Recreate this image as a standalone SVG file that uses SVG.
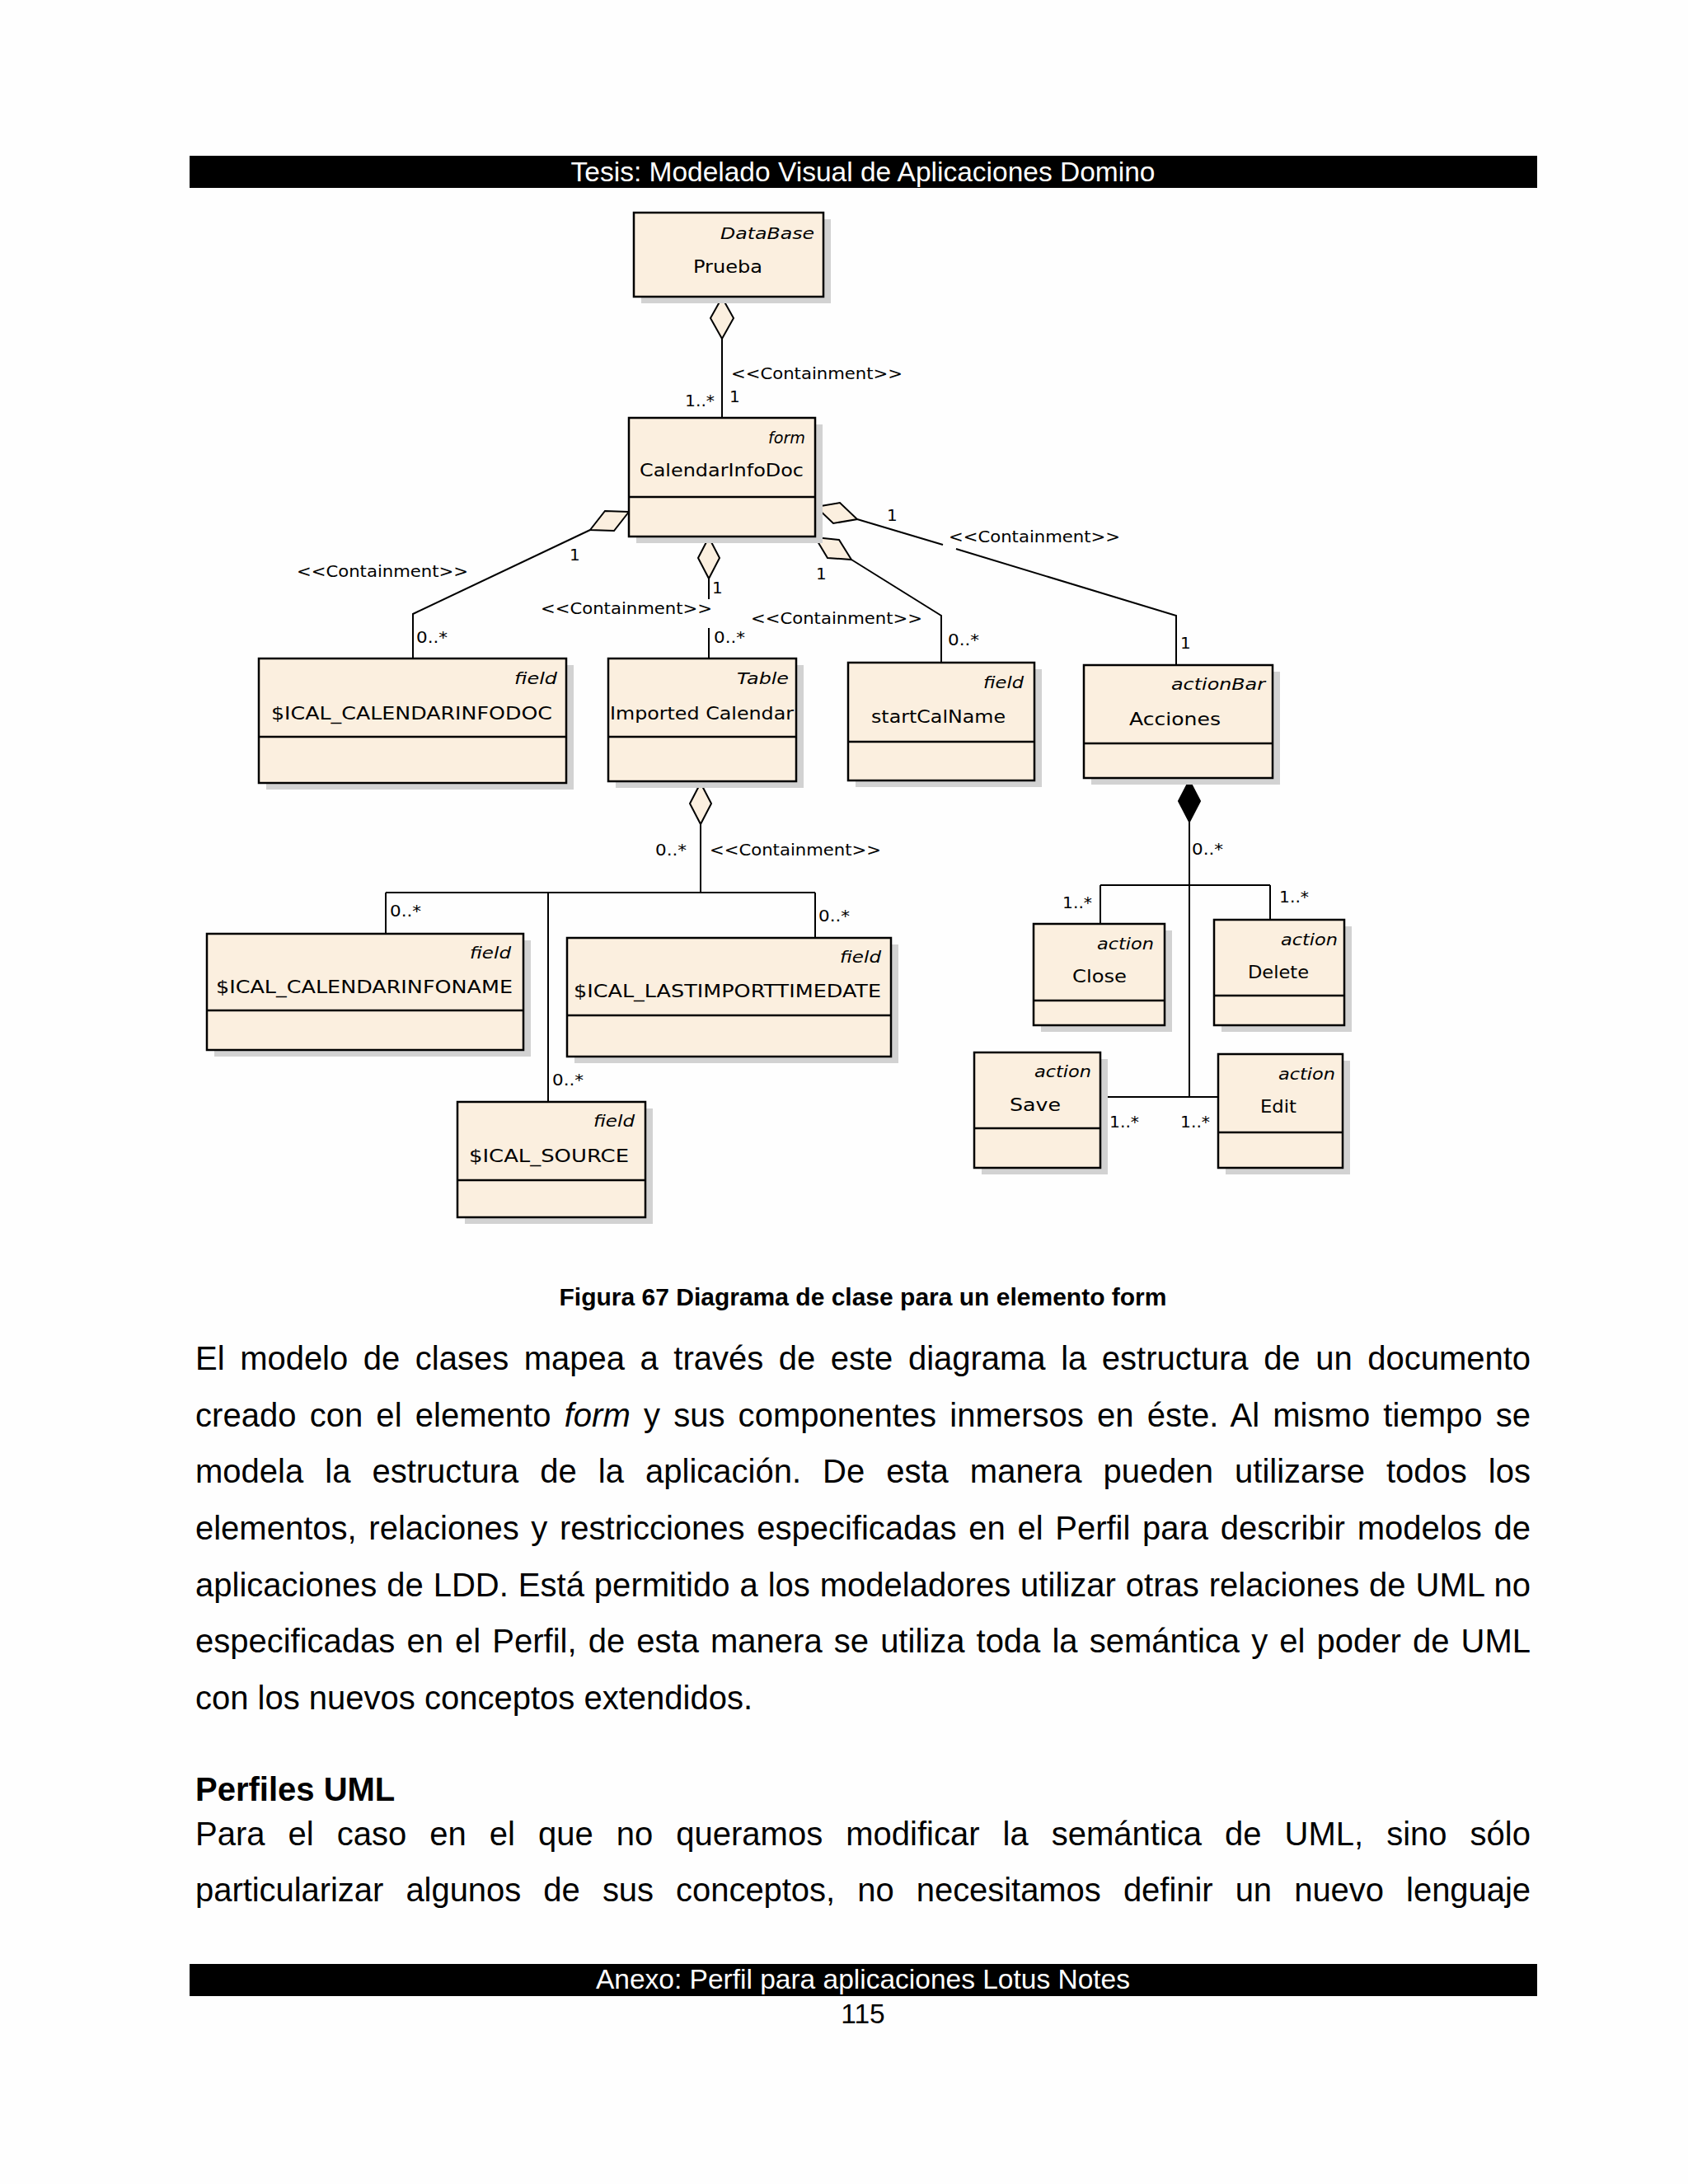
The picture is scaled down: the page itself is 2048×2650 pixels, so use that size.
<svg xmlns="http://www.w3.org/2000/svg" width="2048" height="2650" viewBox="0 0 2048 2650">
<style>
.bg{fill:#fefefe}
.bar{fill:#000}
.bart{font-family:"Liberation Sans",Arial,sans-serif;font-size:33.5px;fill:#fff;text-anchor:middle}
.pg{font-family:"Liberation Sans",Arial,sans-serif;font-size:33.5px;fill:#000;text-anchor:middle}
.cap{font-family:"Liberation Sans",Arial,sans-serif;font-size:30px;font-weight:bold;fill:#000;text-anchor:middle}
.body{font-family:"Liberation Sans",Arial,sans-serif;font-size:40px;fill:#000}
.hd{font-family:"Liberation Sans",Arial,sans-serif;font-size:40px;font-weight:bold;fill:#000}
.sh{fill:#d2d2d2}
.box{fill:#fbefdf;stroke:#000;stroke-width:2.5}
.div{stroke:#000;stroke-width:2.5}
.st{font-family:"DejaVu Sans",sans-serif;font-size:20px;font-style:italic;fill:#000}
.nm{font-family:"DejaVu Sans",sans-serif;font-size:21px;fill:#000}
.ln{fill:none;stroke:#000;stroke-width:2}
.dh{fill:#fbefdf;stroke:#000;stroke-width:2}
.df{fill:#000;stroke:#000;stroke-width:2}
.lb{font-family:"DejaVu Sans",sans-serif;font-size:20px;fill:#000}
</style>
<rect class="bg" x="0" y="0" width="2048" height="2650"/>

<g id="header">
<rect class="bar" x="230" y="189" width="1635" height="39"/>
<text class="bart" x="1047" y="220">Tesis: Modelado Visual de Aplicaciones Domino</text>
</g>

<g id="connectors">
<polygon class="dh" points="876,361 890,386 876,411 862,386"/>
<path class="ln" d="M876,411 V507"/>
<text class="lb" x="887" y="460" textLength="208" lengthAdjust="spacingAndGlyphs">&lt;&lt;Containment&gt;&gt;</text>
<text class="lb" x="831" y="493" textLength="36" lengthAdjust="spacingAndGlyphs">1..*</text>
<text class="lb" x="885" y="488">1</text>

<polygon class="dh" points="763,621 734,620 716,643 745,644"/>
<path class="ln" d="M716,643 L501,745 V799"/>
<text class="lb" x="360" y="700" textLength="208" lengthAdjust="spacingAndGlyphs">&lt;&lt;Containment&gt;&gt;</text>
<text class="lb" x="691" y="680">1</text>
<text class="lb" x="505" y="780" textLength="38" lengthAdjust="spacingAndGlyphs">0..*</text>

<polygon class="dh" points="860,652 873,677 860,702 847,677"/>
<path class="ln" d="M860,702 V727 M860,762 V799"/>
<text class="lb" x="656" y="745" textLength="208" lengthAdjust="spacingAndGlyphs">&lt;&lt;Containment&gt;&gt;</text>
<text class="lb" x="864" y="720">1</text>
<text class="lb" x="866" y="780" textLength="38" lengthAdjust="spacingAndGlyphs">0..*</text>

<polygon class="dh" points="989,652 1018,655 1033,679 1004,677"/>
<path class="ln" d="M1033,679 L1142,747 V804"/>
<text class="lb" x="911" y="757" textLength="208" lengthAdjust="spacingAndGlyphs">&lt;&lt;Containment&gt;&gt;</text>
<text class="lb" x="990" y="703">1</text>
<text class="lb" x="1150" y="783" textLength="38" lengthAdjust="spacingAndGlyphs">0..*</text>

<polygon class="dh" points="990,615 1019,610 1040,630 1011,635"/>
<path class="ln" d="M1040,630 L1144,661 M1160,666 L1427,747 V807"/>
<text class="lb" x="1151" y="658" textLength="208" lengthAdjust="spacingAndGlyphs">&lt;&lt;Containment&gt;&gt;</text>
<text class="lb" x="1076" y="632">1</text>
<text class="lb" x="1432" y="787">1</text>

<polygon class="dh" points="850,950 863,975 850,1000 837,975"/>
<path class="ln" d="M850,1000 V1083 M468,1083 H989 M468,1083 V1133 M665,1083 V1337 M989,1083 V1138"/>
<text class="lb" x="861" y="1038" textLength="208" lengthAdjust="spacingAndGlyphs">&lt;&lt;Containment&gt;&gt;</text>
<text class="lb" x="795" y="1038" textLength="38" lengthAdjust="spacingAndGlyphs">0..*</text>
<text class="lb" x="473" y="1112" textLength="38" lengthAdjust="spacingAndGlyphs">0..*</text>
<text class="lb" x="993" y="1118" textLength="38" lengthAdjust="spacingAndGlyphs">0..*</text>
<text class="lb" x="670" y="1317" textLength="38" lengthAdjust="spacingAndGlyphs">0..*</text>

<polygon class="df" points="1443,947 1456,972 1443,997 1430,972"/>
<path class="ln" d="M1443,997 V1331 M1335,1074 H1541 M1335,1074 V1121 M1541,1074 V1116 M1335,1331 H1478"/>
<text class="lb" x="1446" y="1037" textLength="38" lengthAdjust="spacingAndGlyphs">0..*</text>
<text class="lb" x="1289" y="1102" textLength="36" lengthAdjust="spacingAndGlyphs">1..*</text>
<text class="lb" x="1552" y="1095" textLength="36" lengthAdjust="spacingAndGlyphs">1..*</text>
<text class="lb" x="1346" y="1368" textLength="36" lengthAdjust="spacingAndGlyphs">1..*</text>
<text class="lb" x="1432" y="1368" textLength="36" lengthAdjust="spacingAndGlyphs">1..*</text>
</g>

<g id="n-prueba">
<rect class="sh" x="778" y="266" width="230" height="102"/>
<rect class="box" x="769" y="258" width="230" height="102"/>
<text class="st" x="874" y="290" textLength="114" lengthAdjust="spacingAndGlyphs">DataBase</text>
<text class="nm" x="841" y="331" textLength="84" lengthAdjust="spacingAndGlyphs">Prueba</text>
</g>

<g id="n-calendarinfodoc">
<rect class="sh" x="772" y="515" width="226" height="144"/>
<rect class="box" x="763" y="507" width="226" height="144"/>
<line class="div" x1="763" y1="603" x2="989" y2="603"/>
<text class="st" x="932" y="538" textLength="45" lengthAdjust="spacingAndGlyphs">form</text>
<text class="nm" x="776" y="578" textLength="199" lengthAdjust="spacingAndGlyphs">CalendarInfoDoc</text>
</g>

<g id="n-calendarinfodoc-field">
<rect class="sh" x="323" y="807" width="373" height="151"/>
<rect class="box" x="314" y="799" width="373" height="151"/>
<line class="div" x1="314" y1="894" x2="687" y2="894"/>
<text class="st" x="624" y="830" textLength="52" lengthAdjust="spacingAndGlyphs">field</text>
<text class="nm" x="329" y="873" textLength="341" lengthAdjust="spacingAndGlyphs">$ICAL_CALENDARINFODOC</text>
</g>

<g id="n-imported-calendar">
<rect class="sh" x="747" y="807" width="228" height="149"/>
<rect class="box" x="738" y="799" width="228" height="149"/>
<line class="div" x1="738" y1="894" x2="966" y2="894"/>
<text class="st" x="894" y="830" textLength="63" lengthAdjust="spacingAndGlyphs">Table</text>
<text class="nm" x="740" y="873" textLength="223" lengthAdjust="spacingAndGlyphs">Imported Calendar</text>
</g>

<g id="n-startcalname">
<rect class="sh" x="1038" y="812" width="226" height="143"/>
<rect class="box" x="1029" y="804" width="226" height="143"/>
<line class="div" x1="1029" y1="900" x2="1255" y2="900"/>
<text class="st" x="1193" y="835" textLength="49" lengthAdjust="spacingAndGlyphs">field</text>
<text class="nm" x="1057" y="877" textLength="163" lengthAdjust="spacingAndGlyphs">startCalName</text>
</g>

<g id="n-acciones">
<rect class="sh" x="1324" y="815" width="229" height="137"/>
<rect class="box" x="1315" y="807" width="229" height="137"/>
<line class="div" x1="1315" y1="902" x2="1544" y2="902"/>
<text class="st" x="1421" y="837" textLength="114" lengthAdjust="spacingAndGlyphs">actionBar</text>
<text class="nm" x="1370" y="880" textLength="111" lengthAdjust="spacingAndGlyphs">Acciones</text>
</g>

<g id="n-calendarinfoname">
<rect class="sh" x="260" y="1141" width="384" height="141"/>
<rect class="box" x="251" y="1133" width="384" height="141"/>
<line class="div" x1="251" y1="1226" x2="635" y2="1226"/>
<text class="st" x="570" y="1163" textLength="50" lengthAdjust="spacingAndGlyphs">field</text>
<text class="nm" x="262" y="1205" textLength="360" lengthAdjust="spacingAndGlyphs">$ICAL_CALENDARINFONAME</text>
</g>

<g id="n-lastimporttimedate">
<rect class="sh" x="697" y="1146" width="393" height="144"/>
<rect class="box" x="688" y="1138" width="393" height="144"/>
<line class="div" x1="688" y1="1232" x2="1081" y2="1232"/>
<text class="st" x="1019" y="1168" textLength="50" lengthAdjust="spacingAndGlyphs">field</text>
<text class="nm" x="696" y="1210" textLength="373" lengthAdjust="spacingAndGlyphs">$ICAL_LASTIMPORTTIMEDATE</text>
</g>

<g id="n-source">
<rect class="sh" x="564" y="1345" width="228" height="140"/>
<rect class="box" x="555" y="1337" width="228" height="140"/>
<line class="div" x1="555" y1="1432" x2="783" y2="1432"/>
<text class="st" x="720" y="1367" textLength="50" lengthAdjust="spacingAndGlyphs">field</text>
<text class="nm" x="569" y="1410" textLength="194" lengthAdjust="spacingAndGlyphs">$ICAL_SOURCE</text>
</g>

<g id="n-close">
<rect class="sh" x="1263" y="1129" width="159" height="123"/>
<rect class="box" x="1254" y="1121" width="159" height="123"/>
<line class="div" x1="1254" y1="1214" x2="1413" y2="1214"/>
<text class="st" x="1331" y="1152" textLength="69" lengthAdjust="spacingAndGlyphs">action</text>
<text class="nm" x="1301" y="1192" textLength="66" lengthAdjust="spacingAndGlyphs">Close</text>
</g>

<g id="n-delete">
<rect class="sh" x="1482" y="1124" width="158" height="128"/>
<rect class="box" x="1473" y="1116" width="158" height="128"/>
<line class="div" x1="1473" y1="1208" x2="1631" y2="1208"/>
<text class="st" x="1554" y="1147" textLength="69" lengthAdjust="spacingAndGlyphs">action</text>
<text class="nm" x="1514" y="1187" textLength="74" lengthAdjust="spacingAndGlyphs">Delete</text>
</g>

<g id="n-save">
<rect class="sh" x="1191" y="1285" width="153" height="140"/>
<rect class="box" x="1182" y="1277" width="153" height="140"/>
<line class="div" x1="1182" y1="1369" x2="1335" y2="1369"/>
<text class="st" x="1255" y="1307" textLength="69" lengthAdjust="spacingAndGlyphs">action</text>
<text class="nm" x="1225" y="1348" textLength="62" lengthAdjust="spacingAndGlyphs">Save</text>
</g>

<g id="n-edit">
<rect class="sh" x="1487" y="1287" width="151" height="138"/>
<rect class="box" x="1478" y="1279" width="151" height="138"/>
<line class="div" x1="1478" y1="1374" x2="1629" y2="1374"/>
<text class="st" x="1551" y="1310" textLength="69" lengthAdjust="spacingAndGlyphs">action</text>
<text class="nm" x="1529" y="1350" textLength="44" lengthAdjust="spacingAndGlyphs">Edit</text>
</g>

<g id="text">
<text class="cap" x="1047" y="1584">Figura 67 Diagrama de clase para un elemento form</text>
<text class="body" x="237" y="1662" word-spacing="7.5" textLength="1620" lengthAdjust="spacing">El modelo de clases mapea a través de este diagrama la estructura de un documento</text>
<text class="body" x="237" y="1731" word-spacing="5" textLength="1620" lengthAdjust="spacing">creado con el elemento <tspan font-style="italic">form</tspan> y sus componentes inmersos en éste. Al mismo tiempo se</text>
<text class="body" x="237" y="1799" word-spacing="14.9" textLength="1620" lengthAdjust="spacing">modela la estructura de la aplicación. De esta manera pueden utilizarse todos los</text>
<text class="body" x="237" y="1868" word-spacing="3.6" textLength="1620" lengthAdjust="spacing">elementos, relaciones y restricciones especificadas en el Perfil para describir modelos de</text>
<text class="body" x="237" y="1937" word-spacing="0.8" textLength="1620" lengthAdjust="spacing">aplicaciones de LDD. Está permitido a los modeladores utilizar otras relaciones de UML no</text>
<text class="body" x="237" y="2005" word-spacing="3" textLength="1620" lengthAdjust="spacing">especificadas en el Perfil, de esta manera se utiliza toda la semántica y el poder de UML</text>
<text class="body" x="237" y="2074">con los nuevos conceptos extendidos.</text>
<text class="hd" x="237" y="2185">Perfiles UML</text>
<text class="body" x="237" y="2239" word-spacing="16.9" textLength="1620" lengthAdjust="spacing">Para el caso en el que no queramos modificar la semántica de UML, sino sólo</text>
<text class="body" x="237" y="2307" word-spacing="16.1" textLength="1620" lengthAdjust="spacing">particularizar algunos de sus conceptos, no necesitamos definir un nuevo lenguaje</text>
</g>

<g id="footer">
<rect class="bar" x="230" y="2383" width="1635" height="39"/>
<text class="bart" x="1047" y="2413">Anexo: Perfil para aplicaciones Lotus Notes</text>
<text class="pg" x="1047" y="2455">115</text>
</g>
</svg>
